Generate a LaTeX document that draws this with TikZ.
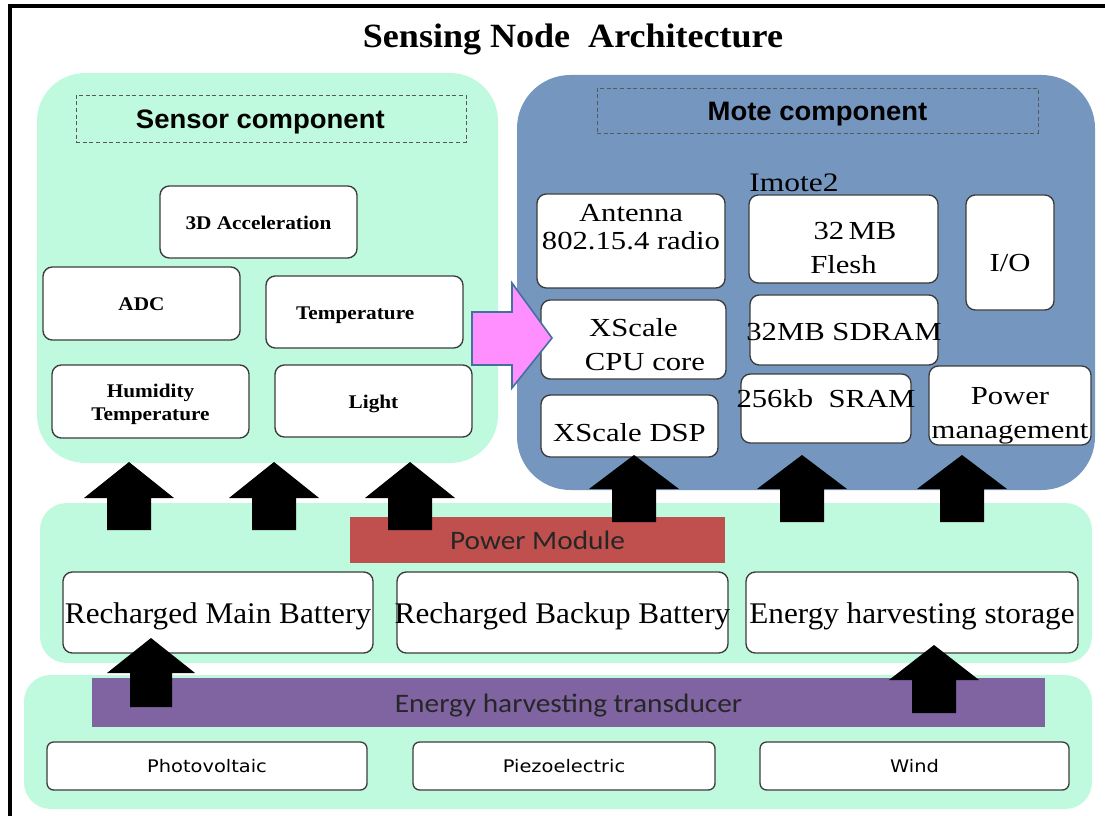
\documentclass[tikz,border=0pt]{standalone}
\usepackage{fontspec}
\setmainfont{Liberation Serif}
\newfontfamily\titlefont[FakeStretch=1.06]{Liberation Serif}
\newfontfamily\sensorfont[FakeStretch=1.1]{Liberation Serif}
\newfontfamily\motefont[FakeStretch=1.18]{Liberation Serif}
\newfontfamily\battfont[FakeStretch=1.04]{Liberation Serif}
\newfontfamily\labsans[FakeStretch=1.03]{Liberation Sans}
\newfontfamily\calib[FakeStretch=1.1]{Carlito}
\newfontfamily\smallsans[FakeStretch=1.12]{DejaVu Sans}

\definecolor{mint}{RGB}{192,250,222}
\definecolor{slate}{RGB}{117,151,191}
\definecolor{brick}{RGB}{192,80,77}
\definecolor{grape}{RGB}{128,100,162}
\definecolor{pinkfill}{RGB}{255,143,255}
\definecolor{pinkedge}{RGB}{65,113,156}
\definecolor{boxedge}{RGB}{60,60,60}

% node spanning the corners (x1,y1)-(x2,y2): name, style, x1, y1, x2, y2, text
% (the text is centred and may run past the box edges without widening it)
\newcommand\placebox[7]{%
  \node[#2,minimum width={(#5-#3)*0.75pt},minimum height={(#6-#4)*0.75pt}]
    (#1) at ({(#3+#5)/2},{(#4+#6)/2})
    {\makebox[0pt]{\raisebox{-0.15em}[\height][\depth]{\begin{tabular}{@{}c@{}}#7\end{tabular}}}};}

% block arrow pointing up: centre x, tip y, head base y, tail y, half head width, half shaft width
\newcommand\blockup[6]{%
  \fill[black] (#1,#2) -- (#1+#5,#3) -- (#1+#6,#3) -- (#1+#6,#4)
    -- (#1-#6,#4) -- (#1-#6,#3) -- (#1-#5,#3) -- cycle;}

\begin{document}
\begin{tikzpicture}[x=0.75pt,y=-0.75pt,
  panel/.style={fill=mint,draw=none,rounded corners=36pt},
  panelblue/.style={fill=slate,draw=none,rounded corners=40pt},
  tagbox/.style={draw=black!65,densely dashed,line width=0.6pt,inner sep=0pt,
    font=\labsans\bfseries\fontsize{20}{22}\selectfont},
  wbox/.style={draw=boxedge,fill=white,line width=1pt,rounded corners=7pt,inner sep=0pt},
  sbox/.style={wbox,font=\sensorfont\bfseries\fontsize{14.5}{17}\selectfont},
  mbox/.style={wbox,font=\motefont\fontsize{19.5}{25.5}\selectfont},
  bbox/.style={wbox,font=\battfont\fontsize{22.5}{24}\selectfont},
  pbox/.style={wbox,rounded corners=5pt,font=\smallsans\fontsize{13}{15}\selectfont},
  bar/.style={draw=none,inner sep=0pt,text=black!85,font=\calib\fontsize{20}{22}\selectfont}]
\useasboundingbox (0,0) rectangle (1105,816);

% outer frame
\draw[line width=2.4pt] (10,830) -- (10,6) -- (1120,6);
\node[font=\titlefont\bfseries\fontsize{25.5}{28}\selectfont] (title) at (573,39) {Sensing Node\ \ Architecture};

% sensor panel
\fill[panel] (37,73) rectangle (498,463);
\placebox{sensTag}{tagbox}{76}{95}{466}{142}{Sensor component\hspace{16pt}\mbox{}}
\placebox{acc}{sbox}{160}{186}{357}{258}{3D Acceleration}
\placebox{adc}{sbox}{43}{267}{240}{340}{ADC}
\placebox{temp}{sbox}{266}{276}{463}{348}{Temperature\hspace{14pt}\mbox{}}
\placebox{hum}{sbox}{52}{365}{249}{438}{Humidity\\Temperature}
\placebox{light}{sbox}{275}{365}{472}{437}{Light}

% mote panel
\fill[panelblue] (517,75) rectangle (1095,490);
\placebox{moteTag}{tagbox}{597}{88}{1038}{133}{Mote component}
\node[font=\motefont\fontsize{20}{24}\selectfont] (imote) at (794,183) {Imote2};
\placebox{ant}{mbox}{537}{197}{725}{285}{Antenna\\[-5pt]802.15.4 radio\\[-1pt]\mbox{}}
\placebox{flash}{mbox}{749}{195}{938}{283}{\mbox{}\\[-16pt]\ \ \ 32\,MB\\Flesh}
\placebox{io}{mbox}{966}{195}{1054}{310}{\mbox{}\\[-13pt]I/O}
\placebox{cpu}{mbox}{541}{300}{726}{379}{\mbox{}\\[-20pt]XScale\\\ \ \ CPU core}
\placebox{sdram}{mbox}{750}{295}{938}{365}{32MB SDRAM}
\placebox{dsp}{mbox}{541}{395}{718}{457}{\mbox{}\\[-18pt]XScale DSP}
\placebox{sram}{mbox}{741}{374}{911}{443}{256kb\ \ SRAM\\[-8pt]\mbox{}}
\placebox{pwrm}{mbox}{929}{366}{1091}{445}{\mbox{}\\[-18pt]Power\\management}

% sensor to mote transfer
\filldraw[fill=pinkfill,draw=pinkedge,line width=1.2pt,line join=miter]
  (472,312) -- (512,312) -- (512,283) -- (552,338) -- (512,388) -- (512,365) -- (472,365) -- cycle;

% power panel
\fill[panel,rounded corners=20pt] (40,503) rectangle (1092,663);
\placebox{pmod}{bar,fill=brick}{350}{517}{725}{563}{Power Module}
\placebox{mainb}{bbox}{63}{572}{373}{653}{Recharged Main Battery}
\placebox{backb}{bbox}{397}{572}{728}{653}{Recharged Backup Battery}
\placebox{storeb}{bbox}{746}{572}{1078}{653}{Energy harvesting storage}

% harvester panel
\fill[panel,rounded corners=20pt] (24,675) rectangle (1092,809);
\placebox{trans}{bar,fill=grape}{92}{678}{1045}{727}{Energy harvesting transducer}
\placebox{pv}{pbox}{47}{742}{367}{790}{Photovoltaic}
\placebox{piezo}{pbox}{413}{742}{715}{790}{Piezoelectric}
\placebox{wind}{pbox}{760}{742}{1069}{790}{Wind}

% power flow arrows
\blockup{129}{462}{498}{530}{45}{22}
\blockup{274}{462}{498}{530}{45}{22}
\blockup{410}{462}{498}{530}{45}{22}
\blockup{634}{455}{489}{522}{45}{22}
\blockup{802}{455}{489}{522}{45}{22}
\blockup{962}{455}{489}{522}{45}{22}
\blockup{151}{638}{673}{707}{44}{21}
\blockup{934}{645}{680}{713}{45}{22}
\end{tikzpicture}
\end{document}
